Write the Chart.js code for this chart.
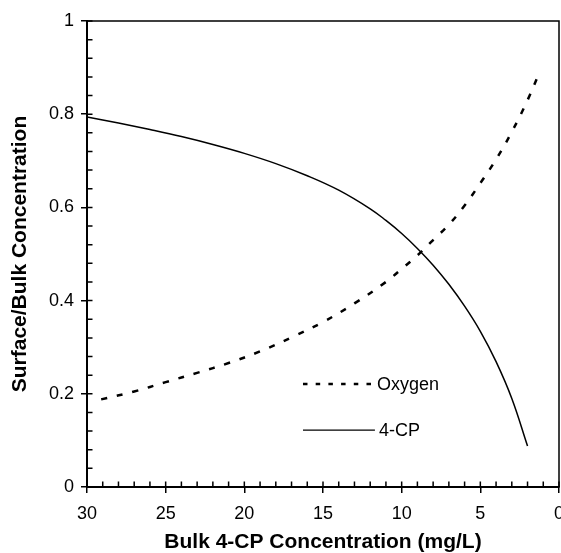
<!DOCTYPE html>
<html>
<head>
<meta charset="utf-8">
<script src="https://cdn.jsdelivr.net/npm/chart.js@4.4.1/dist/chart.umd.min.js"></script>
<style>
  html, body { margin: 0; padding: 0; background: #fff; }
  #wrap { width: 561px; height: 553px; }
</style>
</head>
<body>
<div id="wrap"><canvas id="ratioChart"></canvas></div>
<script>
// ===== DATA =====
// 4-CP: bulk concentration (mg/L) vs surface/bulk ratio
const cpBulk  = [30, 28, 26, 24, 22, 20, 18, 16, 14, 12, 11, 10, 9, 8, 7, 6, 5, 4, 3, 2];
const cpRatio = [0.794, 0.781, 0.767, 0.752, 0.735, 0.716, 0.694, 0.668, 0.637, 0.597,
                 0.572, 0.544, 0.512, 0.476, 0.435, 0.388, 0.334, 0.269, 0.190, 0.088];
// Oxygen
const oxBulk  = [29.1, 27, 25, 23, 21, 19, 17, 15, 13, 11, 10, 9, 8, 7, 6, 5, 4, 3, 2, 1.2];
const oxRatio = [0.188, 0.205, 0.225, 0.245, 0.266, 0.291, 0.321, 0.354, 0.394, 0.440,
                 0.468, 0.497, 0.530, 0.563, 0.604, 0.652, 0.703, 0.762, 0.830, 0.893];

const xTicks = [30, 25, 20, 15, 10, 5, 0];
const yTicks = [0, 0.2, 0.4, 0.6, 0.8, 1];

const FONT = 'Arial, "Liberation Sans", sans-serif';

function toPoints(xs, ys) {
  return xs.map((x, i) => ({ x: x, y: ys[i] }));
}

// ===== PLUGINS =====
// box around the plot + inward minor/major tick marks
const frameTicks = {
  id: 'frameTicks',
  afterDraw(chart) {
    const { ctx, chartArea: a, scales: { x, y } } = chart;
    ctx.save();
    ctx.strokeStyle = '#000';
    ctx.lineWidth = 1.5;
    ctx.strokeRect(a.left, a.top, a.right - a.left, a.bottom - a.top);
    ctx.beginPath();
    for (let v = 0; v <= 30; v++) {
      const px = x.getPixelForValue(v);
      ctx.moveTo(px, a.bottom);
      ctx.lineTo(px, a.bottom - 5.5);
    }
    for (let i = 0; i <= 25; i++) {
      const py = y.getPixelForValue(i * 0.04);
      ctx.moveTo(a.left, py);
      ctx.lineTo(a.left + 5.5, py);
    }
    ctx.stroke();
    ctx.restore();
  }
};

// legend drawn inside the plot, lower middle
const innerLegend = {
  id: 'innerLegend',
  afterDraw(chart) {
    const { ctx, chartArea: a } = chart;
    const w = a.right - a.left, h = a.bottom - a.top;
    const x0 = a.left + w * 0.4576, x1 = a.left + w * 0.610;
    const rows = [
      { text: 'Oxygen', y: a.top + h * 0.779, dash: [4.5, 8.2], width: 2.5, gap: 2 },
      { text: '4-CP',   y: a.top + h * 0.878, dash: [],         width: 1.3, gap: 4 }
    ];
    ctx.save();
    ctx.strokeStyle = '#000';
    ctx.fillStyle = '#000';
    ctx.font = '18px ' + FONT;
    ctx.textBaseline = 'middle';
    rows.forEach(r => {
      ctx.beginPath();
      ctx.setLineDash(r.dash);
      ctx.lineWidth = r.width;
      ctx.moveTo(x0, r.y);
      ctx.lineTo(x1, r.y);
      ctx.stroke();
      ctx.fillText(r.text, x1 + r.gap, r.y + 1);
    });
    ctx.restore();
  }
};

// ===== CHART =====
function initRatioChart() {
  const ctx = document.getElementById('ratioChart');
  if (!ctx) return;

  return new Chart(ctx.getContext('2d'), {
    type: 'line',
    data: {
      datasets: [
        {
          label: 'Oxygen',
          data: toPoints(oxBulk, oxRatio),
          borderColor: '#000',
          borderWidth: 2.5,
          borderDash: [6, 10],
          pointRadius: 0,
          tension: 0.4,
          fill: false
        },
        {
          label: '4-CP',
          data: toPoints(cpBulk, cpRatio),
          borderColor: '#000',
          borderWidth: 1.5,
          pointRadius: 0,
          tension: 0.4,
          fill: false
        }
      ]
    },
    options: {
      responsive: true,
      maintainAspectRatio: false,
      animation: false,
      layout: { padding: { top: 21, right: 2, left: 0, bottom: 0 } },
      plugins: {
        legend: { display: false },
        tooltip: { enabled: false }
      },
      scales: {
        x: {
          type: 'linear',
          reverse: true,
          min: 0,
          max: 30,
          afterBuildTicks: s => { s.ticks = xTicks.map(v => ({ value: v })); },
          afterFit: s => { s.height = 66; s.paddingLeft = 0; s.paddingRight = 0; },
          ticks: {
            color: '#000',
            padding: 10,
            maxRotation: 0,
            autoSkip: false,
            font: { family: FONT, size: 18 }
          },
          grid: { drawOnChartArea: false, drawTicks: true, tickLength: 6, color: '#000', lineWidth: 1.5 },
          border: { display: true, color: '#000', width: 2 },
          title: {
            display: true,
            text: 'Bulk 4-CP Concentration (mg/L)',
            color: '#000',
            padding: { top: 0, bottom: 0 },
            font: { family: FONT, size: 21, weight: 'bold', lineHeight: 1 }
          }
        },
        y: {
          min: 0,
          max: 1,
          afterBuildTicks: s => { s.ticks = yTicks.map(v => ({ value: v })); },
          afterFit: s => { s.width = 87; s.paddingTop = 0; s.paddingBottom = 0; },
          ticks: {
            color: '#000',
            padding: 7,
            autoSkip: false,
            callback: v => String(v),
            font: { family: FONT, size: 18 }
          },
          grid: { drawOnChartArea: false, drawTicks: true, tickLength: 6, color: '#000', lineWidth: 1.5 },
          border: { display: true, color: '#000', width: 2 },
          title: {
            display: true,
            text: 'Surface/Bulk Concentration',
            color: '#000',
            padding: { top: 9.5, bottom: 0 },
            font: { family: FONT, size: 21, weight: 'bold', lineHeight: 1 }
          }
        }
      }
    },
    plugins: [frameTicks, innerLegend]
  });
}

initRatioChart();
</script>
</body>
</html>
